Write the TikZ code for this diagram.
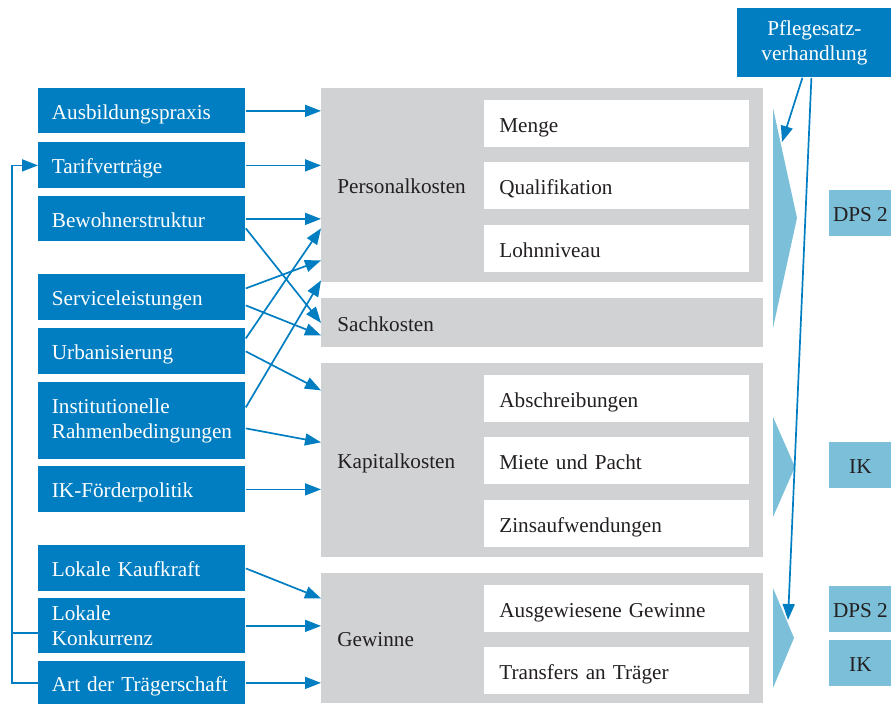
\documentclass[tikz,border=0pt]{standalone}
\usepackage{fontspec}
\setmainfont{Liberation Serif}
\usetikzlibrary{arrows.meta}
\definecolor{blau}{RGB}{0,126,193}
\definecolor{hellblau}{RGB}{123,191,216}
\definecolor{grau}{RGB}{209,210,212}
\definecolor{dunkel}{RGB}{35,31,32}
\begin{document}
\begin{tikzpicture}[x=0.5pt,y=-0.5pt,font=\fontsize{10.6}{12.6}\selectfont,
  zeile/.style={text height=9.6pt,text depth=1pt},
  faktor/.style={anchor=north west,fill=blau,text=white,minimum width=103.5pt,text width=90pt,inner xsep=6.75pt,inner ysep=0pt,align=left},
  kosten/.style={zeile,anchor=north west,fill=grau,text=dunkel,minimum width=221pt,text width=205pt,inner xsep=8pt,inner ysep=0pt,align=left},
  posten/.style={zeile,anchor=north west,fill=white,text=dunkel,minimum width=132.5pt,minimum height=23.5pt,text width=117.5pt,inner xsep=7.5pt,inner ysep=0pt,align=left},
  ergebnis/.style={zeile,anchor=north west,fill=hellblau,text=dunkel,minimum width=31pt,minimum height=23pt,inner sep=0pt},
  pfeil/.style={draw=blau,line width=0.85pt,-{Triangle[length=8pt,width=6pt]}}]
  \useasboundingbox (0,0) rectangle (891,704);

  % Einflussfaktoren
  \node[faktor,zeile,minimum height=22.5pt] (ausb) at (38,88) {Ausbildungspraxis};
  \node[faktor,zeile,minimum height=23pt] (tarif) at (38,142) {Tarifverträge};
  \node[faktor,zeile,minimum height=22.5pt] (bewohn) at (38,196) {Bewohnerstruktur};
  \node[faktor,zeile,minimum height=23pt] (service) at (38,274) {Serviceleistungen};
  \node[faktor,zeile,minimum height=23pt] (urban) at (38,328) {Urbanisierung};
  \node[faktor,minimum height=38.5pt] (inst) at (38,382) {Institutionelle\\Rahmenbedingungen};
  \node[faktor,zeile,minimum height=23pt] (ikf) at (38,466) {IK-Förderpolitik};
  \node[faktor,zeile,minimum height=23pt] (kauf) at (38,545) {Lokale Kaufkraft};
  \node[faktor,minimum height=27.5pt] (konk) at (38,598) {Lokale\\Konkurrenz};
  \node[faktor,zeile,minimum height=21.5pt] (traeger) at (38,661) {Art der Trägerschaft};

  % Kostenarten
  \node[kosten,minimum height=97pt] (pk) at (321,88) {Personalkosten};
  \node[kosten,minimum height=24.5pt] (sk) at (321,298) {Sachkosten};
  \node[kosten,minimum height=97pt] (kk) at (321,363) {Kapitalkosten};
  \node[kosten,minimum height=65pt] (gw) at (321,573) {Gewinne};

  \node[posten] (menge) at (484,100) {Menge};
  \node[posten] (quali) at (484,162) {Qualifikation};
  \node[posten] (lohn) at (484,225) {Lohnniveau};
  \node[posten] (abschr) at (484,375) {Abschreibungen};
  \node[posten] (miete) at (484,437) {Miete und Pacht};
  \node[posten] (zins) at (484,500) {Zinsaufwendungen};
  \node[posten] (ausgew) at (484,585) {Ausgewiesene Gewinne};
  \node[posten] (transf) at (484,647) {Transfers an Träger};

  \fill[hellblau] (773,108) -- (797,218) -- (773,328) -- cycle;
  \fill[hellblau] (773,417) -- (795,467) -- (773,517) -- cycle;
  \fill[hellblau] (773,588) -- (794,638) -- (773,688) -- cycle;

  \node[ergebnis] (dps1) at (829,190) {DPS 2};
  \node[ergebnis] (ik1) at (829,442) {IK};
  \node[ergebnis] (dps2) at (829,586) {DPS 2};
  \node[ergebnis] (ik2) at (829,640) {IK};

  \node[anchor=north west,fill=blau,text=white,minimum width=77pt,minimum height=34.5pt,inner sep=0pt,align=center] (pflege) at (737,8) {Pflegesatz-\\verhandlung};
  \coordinate (ziel1) at (782,142);
  \coordinate (ziel2) at (788,620);
  \draw[pfeil] ([xshift=-6pt]pflege.south) -- (ziel1);
  \draw[pfeil] ([xshift=-1.5pt]pflege.south) -- (ziel2);

  \foreach \n in {ausb,tarif,bewohn,ikf,konk,traeger}
    \draw[pfeil] (\n.east) -- (\n.east -| pk.west);
  \draw[pfeil] ([yshift=-4.75pt]bewohn.east) -- (sk.west);
  \draw[pfeil] ([yshift=4.5pt]service.east) -- ([yshift=-37.5pt]pk.west);
  \draw[pfeil] ([yshift=-4pt]service.east) -- ([yshift=-6.25pt]sk.west);
  \draw[pfeil] ([yshift=6.5pt]urban.east) -- ([yshift=-21.5pt]pk.west);
  \draw[pfeil] (urban.east) -- ([yshift=35pt]kk.west);
  \draw[pfeil] ([yshift=6.75pt]inst.east) -- ([yshift=-47.5pt]pk.west);
  \draw[pfeil] ([yshift=-3.75pt]inst.east) -- ([yshift=9pt]kk.west);
  \draw[pfeil] (kauf.east) -- ([yshift=20pt]gw.west);

  \draw[pfeil] (traeger.west) -- ++(-26,0) |- (tarif.west);
  \draw[draw=blau,line width=0.85pt] ([yshift=-3.5pt]konk.west) -- ++(-26,0);
\end{tikzpicture}
\end{document}
